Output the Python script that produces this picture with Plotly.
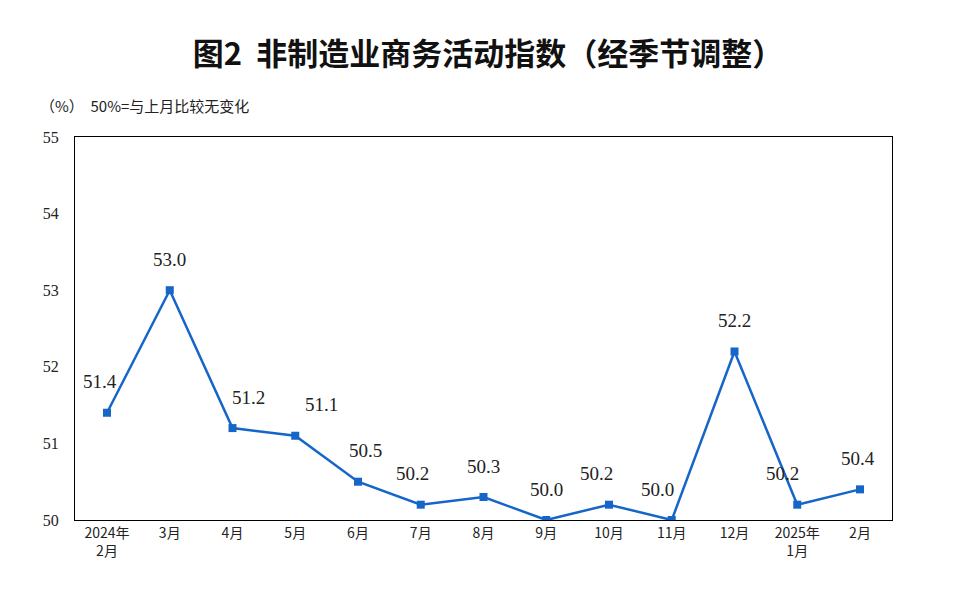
import plotly.graph_objects as go

categories = ["2024年<br>2月", "3月", "4月", "5月", "6月", "7月", "8月", "9月", "10月", "11月", "12月", "2025年<br>1月", "2月"]
values = [51.4, 53.0, 51.2, 51.1, 50.5, 50.2, 50.3, 50.0, 50.2, 50.0, 52.2, 50.2, 50.4]
labels = [f"{v:.1f}" for v in values]

xs = list(range(len(categories)))
color = "#1665C8"
fig = go.Figure(go.Scatter(x=xs, y=values, mode="lines+markers",
                           line=dict(color=color, width=2.5),
                           marker=dict(symbol="square", size=8, color=color),
                           hoverinfo="skip"))
xshift = [-7, 0, 16, 26, 7, -8, 0, 0, -13, -14, 0, -15, -2]
for i, (v, t) in enumerate(zip(values, labels)):
    fig.add_annotation(x=i, y=v, text=t, showarrow=False, yshift=31, xshift=xshift[i],
                       font=dict(family="Liberation Serif", size=19, color="#222"))
fig.update_layout(
    width=960, height=595, plot_bgcolor="white", paper_bgcolor="white",
    margin=dict(l=67, r=76, t=129, b=83),
    showlegend=False,
    title=dict(text="<b>图2  非制造业商务活动指数（经季节调整）</b>", x=0.5, y=0.94, xanchor="center",
               font=dict(family="Noto Sans CJK SC", size=31, color="#111")),
    xaxis=dict(range=[-0.51, 12.51], tickvals=xs, ticktext=categories, showline=True, mirror=True,
               linecolor="black", linewidth=1, showgrid=False, zeroline=False, ticks="",
               tickfont=dict(family="Noto Sans CJK SC", size=14, color="#222")),
    yaxis=dict(range=[50, 55], dtick=1, showline=True, mirror=True, linecolor="black", linewidth=1,
               showgrid=False, zeroline=False, ticks="", ticklabelstandoff=12,
               tickfont=dict(family="Liberation Serif", size=16, color="#222")),
)
fig.add_annotation(xref="paper", yref="paper", x=-0.045, y=1.05, xanchor="left", yanchor="bottom",
                   text="（%）  50%=与上月比较无变化", showarrow=False,
                   font=dict(family="Noto Sans CJK SC", size=15, color="#222"))
fig.write_html("out.html")
